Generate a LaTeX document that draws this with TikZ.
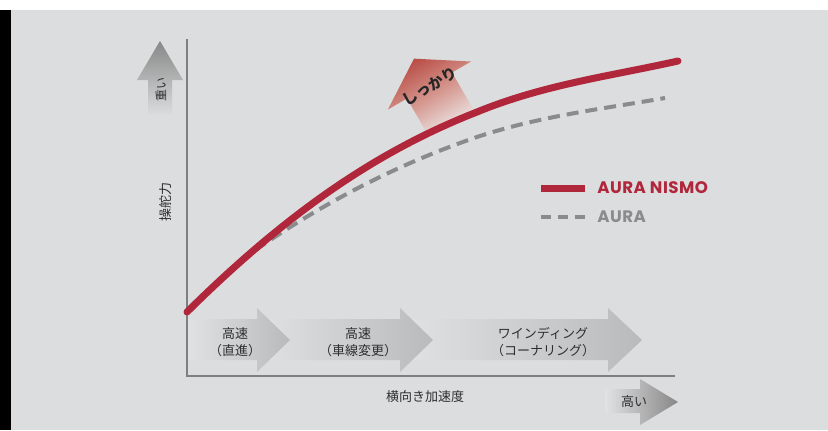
\documentclass[tikz,border=0pt]{standalone}
\usepackage{fontspec}
\setmainfont{Poppins}
\newfontfamily\jp{Noto Sans CJK JP}
\definecolor{bg}{HTML}{DCDDDF}
\definecolor{nred}{HTML}{B0263B}
\definecolor{ngray}{HTML}{8A8B8D}
\definecolor{axisgray}{HTML}{7F7F7F}
\definecolor{txt}{HTML}{2E2E2E}
\definecolor{arrlight}{HTML}{E1E2E4}
\definecolor{arrdark}{HTML}{B9BABC}
\definecolor{redtip}{HTML}{BA5048}
\definecolor{redmid}{HTML}{D69A92}
\definecolor{redfade}{HTML}{EEEDED}
\definecolor{greytip}{HTML}{878787}
\tikzset{
  axisline/.style={draw=axisgray, line width=0.8pt},
  redcurve/.style={draw=nred, line width=5.25pt, line cap=round, line join=round},
  graycurve/.style={draw=ngray, line width=3pt, dash pattern=on 9pt off 5.25pt},
  stagearrow/.style={left color=arrlight, right color=arrdark},
  jplabel/.style={font=\jp\fontsize{9.75}{12.75}\selectfont, text=txt, inner sep=0pt, align=center},
  legendtext/.style={font=\bfseries\fontsize{12.5}{14}\selectfont\addfontfeature{LetterSpace=3}, anchor=west, inner sep=0pt}
}
\begin{document}
\begin{tikzpicture}[x=0.75pt,y=-0.75pt]
\useasboundingbox (0,0) rectangle (828,430);
\fill[white] (0,0) rectangle (828,10);
\fill[black] (0,10) rectangle (11,430);
\fill[bg] (11,10) rectangle (828,430);

% stage arrows
\shade[stagearrow] (400,319) -- (608,319) -- (608,308) -- (642,340) -- (608,372) -- (608,360) -- (400,360) -- cycle;
\shade[stagearrow] (257,319) -- (400,319) -- (400,308) -- (433,340) -- (400,372) -- (400,360) -- (257,360) -- cycle;
\shade[stagearrow] (187,319) -- (257,319) -- (257,308) -- (290,340) -- (257,372) -- (257,360) -- (187,360) -- cycle;
\node[jplabel] (s1) at (235,342) {高速\\（直進）};
\node[jplabel] (s2) at (358,342) {高速\\（車線変更）};
\node[jplabel] (s3) at (543,342) {ワインディング\\（コーナリング）};

% axes
\coordinate (ytop) at (187,39);
\coordinate (origin) at (187,376);
\coordinate (xend) at (675,376);
\draw[axisline] (ytop) -- (origin) -- (xend);

% heavy arrow
\shade[top color=greytip, bottom color=bg] (160,41) -- (183,80) -- (172,80) -- (172,115) -- (148,115) -- (148,80) -- (137,80) -- cycle;
\node[font=\jp\fontsize{9}{10}\selectfont, text=txt, rotate=90, inner sep=0pt] (heavy) at (161,89) {重い};
\node[jplabel, rotate=90] (ylab) at (166,202) {操舵力};

% high arrow
\shade[left color=arrlight, right color=greytip] (605,389) -- (640,389) -- (640,379) -- (678,402) -- (640,425) -- (640,413) -- (605,413) -- cycle;
\node[jplabel] (high) at (634,402) {高い};
\node[jplabel] (xlab) at (425,397) {横向き加速度};

% shikkari arrow
\begin{scope}[shift={(429.5,85.5)}, rotate=30]
\shade[top color=redtip, bottom color=redfade, middle color=redmid, shading angle=30] (0,-31) -- (48,0) -- (26,0) -- (26,45) -- (-26,45) -- (-26,0) -- (-48,0) -- cycle;
\node[rotate=30, font=\jp\bfseries\fontsize{11.25}{12}\selectfont, text=black!85, inner sep=0pt] (firm) at (0,1) {しっかり};
\end{scope}

% curves
\coordinate (g0) at (240,261);
\coordinate (g1) at (477,137);
\coordinate (g2) at (665,98);
\draw[graycurve] (g0) .. controls (319,204) and (398,164) .. (g1) .. controls (540,116) and (602,109) .. (g2);
\coordinate (r0) at (187,312);
\coordinate (r1) at (477,112);
\coordinate (r2) at (678,61);
\draw[redcurve] (r0) .. controls (290,210) and (380,150) .. (r1) .. controls (544,84.5) and (611,76) .. (r2);

% legend
\coordinate (l1a) at (541,188);
\coordinate (l1b) at (585,188);
\coordinate (l2a) at (541,217);
\coordinate (l2b) at (585,217);
\draw[draw=nred, line width=5.25pt] (l1a) -- (l1b);
\draw[draw=ngray, line width=3pt, dash pattern=on 7.5pt off 5.25pt] (l2a) -- (l2b);
\node[legendtext, text=nred] (nismo) at (597,188) {AURA NISMO};
\node[legendtext, text=ngray] (aura) at (597,217) {AURA};
\end{tikzpicture}
\end{document}
